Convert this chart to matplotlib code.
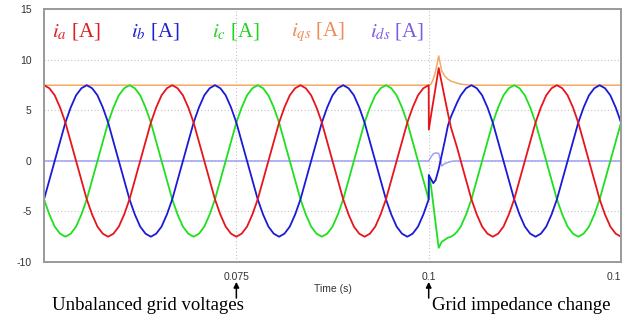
import numpy as np
import matplotlib
matplotlib.use('Agg')
import matplotlib.pyplot as plt

plt.rcParams['mathtext.fontset'] = 'stix'
plt.rcParams['axes.unicode_minus'] = False

# sample spacing: 1/24 of one 60 Hz cycle
STEP = 1 / 1440
t_pre = 0.05 + np.arange(73) * STEP          # 0.05 ... 0.1
t_post = 0.05 + np.arange(78, 109) * STEP    # 0.1042 ... 0.125
# denser samples through the step at t = 0.1
t_tr = [0.10002, 0.1003, 0.1006, 0.1009, 0.1013, 0.1017,
        0.1021, 0.1025, 0.1029, 0.1033, 0.1037]

# phase a current
ia_pre = [7.5, 7.2, 6.5, 5.3, 3.8, 1.9, 0, -1.9, -3.8, -5.3, -6.5, -7.2,
          -7.5, -7.2, -6.5, -5.3, -3.8, -1.9, 0, 1.9, 3.8, 5.3, 6.5, 7.2,
          7.5, 7.2, 6.5, 5.3, 3.8, 1.9, 0, -1.9, -3.8, -5.3, -6.5, -7.2,
          -7.5, -7.2, -6.5, -5.3, -3.8, -1.9, 0, 1.9, 3.8, 5.3, 6.5, 7.2,
          7.5, 7.2, 6.5, 5.3, 3.8, 1.9, 0, -1.9, -3.8, -5.3, -6.5, -7.2,
          -7.5, -7.2, -6.5, -5.3, -3.8, -1.9, 0, 1.9, 3.8, 5.3, 6.5, 7.2,
          7.5]
ia_tr = [3.1, 4.5, 5.9, 7.3, 9.2, 7.7, 6.2, 4.7, 3.3, 2.3, 1.3]
ia_post = [0, -1.9, -3.8, -5.3, -6.5, -7.2, -7.5, -7.2, -6.5, -5.3, -3.8, -1.9,
           0, 1.9, 3.8, 5.3, 6.5, 7.2, 7.5, 7.2, 6.5, 5.3, 3.8, 1.9,
           0, -1.9, -3.8, -5.3, -6.5, -7.2, -7.5]

# phase b current
ib_pre = [-3.8, -1.9, 0, 1.9, 3.8, 5.3, 6.5, 7.2, 7.5, 7.2, 6.5, 5.3,
          3.8, 1.9, 0, -1.9, -3.8, -5.3, -6.5, -7.2, -7.5, -7.2, -6.5, -5.3,
          -3.8, -1.9, 0, 1.9, 3.8, 5.3, 6.5, 7.2, 7.5, 7.2, 6.5, 5.3,
          3.8, 1.9, 0, -1.9, -3.8, -5.3, -6.5, -7.2, -7.5, -7.2, -6.5, -5.3,
          -3.8, -1.9, 0, 1.9, 3.8, 5.3, 6.5, 7.2, 7.5, 7.2, 6.5, 5.3,
          3.8, 1.9, 0, -1.9, -3.8, -5.3, -6.5, -7.2, -7.5, -7.2, -6.5, -5.3,
          -3.8]
ib_tr = [-1.4, -1.8, -2.2, -1.9, -0.8, 0.6, 2.0, 3.5, 4.4, 5.1, 5.8]
ib_post = [6.5, 7.2, 7.5, 7.2, 6.5, 5.3, 3.8, 1.9, 0, -1.9, -3.8, -5.3,
           -6.5, -7.2, -7.5, -7.2, -6.5, -5.3, -3.8, -1.9, 0, 1.9, 3.8, 5.3,
           6.5, 7.2, 7.5, 7.2, 6.5, 5.3, 3.8]

# phase c current
ic_pre = [-3.8, -5.3, -6.5, -7.2, -7.5, -7.2, -6.5, -5.3, -3.8, -1.9, 0, 1.9,
          3.8, 5.3, 6.5, 7.2, 7.5, 7.2, 6.5, 5.3, 3.8, 1.9, 0, -1.9,
          -3.8, -5.3, -6.5, -7.2, -7.5, -7.2, -6.5, -5.3, -3.8, -1.9, 0, 1.9,
          3.8, 5.3, 6.5, 7.2, 7.5, 7.2, 6.5, 5.3, 3.8, 1.9, 0, -1.9,
          -3.8, -5.3, -6.5, -7.2, -7.5, -7.2, -6.5, -5.3, -3.8, -1.9, 0, 1.9,
          3.8, 5.3, 6.5, 7.2, 7.5, 7.2, 6.5, 5.3, 3.8, 1.9, 0, -1.9,
          -3.8]
ic_tr = [-1.4, -2.5, -4.3, -6.2, -8.6, -8.0, -7.8, -7.6, -7.5, -7.3, -7.0]
ic_post = [-6.5, -5.3, -3.8, -1.9, 0, 1.9, 3.8, 5.3, 6.5, 7.2, 7.5, 7.2,
           6.5, 5.3, 3.8, 1.9, 0, -1.9, -3.8, -5.3, -6.5, -7.2, -7.5, -7.2,
           -6.5, -5.3, -3.8, -1.9, 0, 1.9, 3.8]

# dq currents (flat except around the step)
t_dq_pre = [0.05, 0.1]
iqs_pre = [7.5, 7.5]
iqs_tr = [7.5, 7.6, 8.1, 8.9, 10.4, 8.9, 8.4, 8.1, 7.9, 7.8, 7.7]
t_iqs_post = [0.1042, 0.1055, 0.125]
iqs_post = [7.6, 7.5, 7.5]
ids_pre = [0, 0]
ids_tr = [0.0, 0.4, 0.7, 0.8, 0.75, -0.5, -0.25, -0.15, -0.05, 0.0, 0.0]
t_ids_post = [0.1042, 0.125]
ids_post = [0, 0]

xticks = [0.075, 0.1, 0.125]
xtick_labels = ['0.075', '0.1', '0.1']
yticks = [-10, -5, 0, 5, 10, 15]

fig = plt.figure(figsize=(6.38, 3.23), dpi=100)
ax = fig.add_axes([0.069, 0.189, 0.9044, 0.7817])

ax.plot(list(t_dq_pre) + t_tr + t_ids_post, ids_pre + ids_tr + ids_post,
        color='#a0a0f4', lw=1.1)
ax.plot(list(t_dq_pre) + t_tr + t_iqs_post, iqs_pre + iqs_tr + iqs_post,
        color='#f4aa62', lw=1.1)

t_all = list(t_pre) + t_tr + list(t_post)
ax.plot(t_all, ic_pre + ic_tr + ic_post, color='#1ee01e', lw=1.3)
ax.plot(t_all, ib_pre + ib_tr + ib_post, color='#1a1ad8', lw=1.3)
ax.plot(t_all, ia_pre + ia_tr + ia_post, color='#e8141c', lw=1.3)

ax.set_xlim(0.05, 0.125)
ax.set_ylim(-10, 15)
ax.set_xticks(xticks)
ax.set_xticklabels(xtick_labels)
ax.get_xticklabels()[-1].set_ha('right')
ax.set_yticks(yticks)
ax.tick_params(length=0, labelsize=7.5, labelcolor='#333333')
ax.tick_params(axis='x', pad=7)
ax.tick_params(axis='y', pad=9)
for lab in ax.get_xticklabels() + ax.get_yticklabels():
    lab.set_fontfamily('Liberation Sans')

ax.grid(True, linestyle=(0, (1, 2)), color='#c4c4c4', lw=0.8)
for s in ax.spines.values():
    s.set_color('#9a9a9a')
    s.set_linewidth(1.4)

ax.text(0.5, -0.107, 'Time (s)', transform=ax.transAxes, ha='center',
        va='center', fontsize=7.5, family='Liberation Sans', color='#333333')

# series labels at the top
labels = [r'$i_{a}$ [A]', r'$i_{b}$ [A]', r'$i_{c}$ [A]',
          r'$i_{qs}$ [A]', r'$i_{ds}$ [A]']
label_colors = ['#d81e1e', '#2020c8', '#22d022', '#ee8a55', '#7b5be0']
label_x = [0.014, 0.151, 0.291, 0.428, 0.565]
for lx, lab, c in zip(label_x, labels, label_colors):
    ax.text(lx, 0.893, lab, transform=ax.transAxes, color=c, fontsize=15,
            family='Liberation Serif', va='baseline')

# event markers below the axis
for tx in [0.075, 0.1]:
    ax.annotate('', xy=(tx, -0.079), xycoords=('data', 'axes fraction'),
                xytext=(tx, -0.143), textcoords=('data', 'axes fraction'),
                arrowprops=dict(arrowstyle='-|>', color='black', lw=1.1,
                                mutation_scale=8, shrinkA=0, shrinkB=0),
                annotation_clip=False)
ax.text(0.014, -0.19, 'Unbalanced grid voltages', transform=ax.transAxes,
        fontsize=13.5, family='Liberation Serif', va='baseline')
ax.text(0.6724, -0.19, 'Grid impedance change', transform=ax.transAxes,
        fontsize=13.5, family='Liberation Serif', va='baseline')

fig.savefig('out.png', dpi=100)
